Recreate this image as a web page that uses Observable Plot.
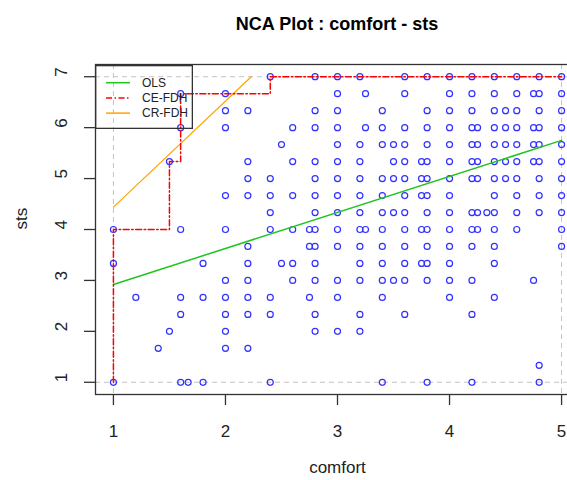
<!DOCTYPE html>
<html><head><meta charset="utf-8">
<script src="https://cdn.jsdelivr.net/npm/d3@7"></script>
<script src="https://cdn.jsdelivr.net/npm/@observablehq/plot@0.6"></script>
<style>
html,body{margin:0;padding:0;background:#fff;width:567px;height:480px;overflow:hidden;position:relative;font-family:"Liberation Sans",Arial,sans-serif;}
#title{position:absolute;left:0;top:12px;width:674px;text-align:center;font-weight:bold;font-size:18px;line-height:24px;color:#000;}
#chart{position:absolute;left:0;top:40px;width:600px;height:440px;}
#chart svg{max-width:none !important;}
#legend{position:absolute;left:95px;top:65px;}
</style></head><body>
<div id="title">NCA Plot : comfort - sts</div>
<div id="chart"></div>
<div id="legend"></div>
<script>
// Observed comfort levels and the sts values seen at each level
const comfortLevels = [1, 1.2, 1.4, 1.5, 1.6, 1.667, 1.8, 2, 2.2, 2.4, 2.5, 2.6, 2.75, 2.8, 3, 3.2, 3.25, 3.4, 3.5, 3.6, 3.75, 3.8, 4, 4.2, 4.25, 4.333, 4.4, 4.5, 4.6, 4.75, 4.8, 5];
const stsAtLevel = [
  [1, 3.333, 4],
  [2.667],
  [1.667],
  [5.333, 2],
  [6.667, 6, 4, 2.667, 2.333, 1],
  [1],
  [3.333, 2.667, 1],
  [6.667, 6.333, 6, 4.667, 4, 3, 2.667, 2.333, 2, 1.667],
  [6.333, 5.333, 5, 4.667, 3.667, 3.333, 3, 2.667, 2.333, 1.667],
  [7, 5, 4.667, 4.333, 4, 2.667, 2.333, 1],
  [5.667, 3.333],
  [6, 5.333, 4.667, 4, 3.333, 3],
  [4, 3.667, 2.667],
  [7, 6.333, 6, 5.333, 5, 4.667, 4.333, 4, 3.667, 3.333, 3, 2.333, 2],
  [7, 6.667, 6.333, 6, 5.667, 5.333, 5, 4.667, 4.333, 4, 3.667, 3, 2.667, 2],
  [7, 5.667, 5.333, 5, 4.667, 4.333, 4, 3.667, 3.333, 3, 2.333, 2],
  [6.667, 6, 4],
  [6.333, 6, 5.667, 5, 4.667, 4.333, 4, 3.667, 3.333, 3, 2.667, 1],
  [5.667, 5.333, 5, 4.333, 3],
  [7, 6.667, 6, 5.667, 5.333, 5, 4.667, 4.333, 4, 3.667, 3.333, 3, 2.333],
  [5.333, 5, 4.667, 4, 3.333],
  [7, 6.333, 6, 5.667, 5.333, 5, 4.667, 4.333, 4, 3.667, 3.333, 3, 1],
  [7, 6.667, 6.333, 6, 5.667, 5.333, 5, 4.667, 4.333, 4, 3.667, 3.333, 3, 2.667],
  [7, 6.667, 6.333, 6, 5.667, 5.333, 5, 4.333, 4, 3.667, 3, 2.333, 1],
  [6, 5.667, 5.333, 5, 4.333, 4],
  [4.333],
  [7, 6.667, 6.333, 6, 5.667, 5.333, 5, 4.667, 4.333, 4, 3.667, 3.333, 2.667],
  [6.333, 6, 5.667, 5.333, 5],
  [7, 6.667, 6.333, 6, 5.667, 5.333, 5, 4.667, 4.333, 4],
  [6.667, 6, 5.667, 5.333, 3],
  [7, 6.667, 6.333, 6, 5.667, 5.333, 5, 4.667, 4.333, 1.333, 1],
  [7, 6.667, 6.333, 6, 5.667, 5.333, 5, 4.667, 4.333, 4, 3.667]
];

// Ceiling / regression lines
const olsComfort = [1, 5];
const olsSts = [2.92, 5.75];
const ceComfort = [1, 1, 1.5, 1.5, 1.6, 1.6, 2.4, 2.4, 5];
const ceSts = [1, 4, 4, 5.333, 5.333, 6.667, 6.667, 7, 7];
const crComfort = [1, 2.23];
const crSts = [4.44, 7];

// Scope limits and ticks
const scopeComfort = [1, 5];
const scopeSts = [1, 7];
const xTicks = [1, 2, 3, 4, 5];
const yTicks = [1, 2, 3, 4, 5, 6, 7];

// Legend entries
const legendNames = ["OLS", "CE-FDH", "CR-FDH"];
const legendColors = ["#1fc41f", "#ff0000", "#ffa500"];
const legendDash = ["none", "6,2.5,1.5,2.5", "none"];

const points = comfortLevels.flatMap((c, i) => stsAtLevel[i].map(s => ({comfort: c, sts: s})));
const toRows = (xs, ys) => xs.map((x, i) => ({comfort: x, sts: ys[i]}));

const font = "'Liberation Sans', Arial, sans-serif";
const chart = Plot.plot({
  width: 600,
  height: 440,
  marginLeft: 95,
  marginRight: 21,
  marginTop: 24,
  marginBottom: 86,
  style: {fontFamily: font, fontSize: "17px", color: "#222", background: "transparent", overflow: "visible", maxWidth: "none"},
  x: {domain: [0.84, 5.16]},
  y: {domain: [0.76, 7.24]},
  marks: [
    Plot.ruleX(scopeComfort, {stroke: "#c4c4c4", strokeDasharray: "5,4", strokeWidth: 1}),
    Plot.ruleY(scopeSts, {stroke: "#c4c4c4", strokeDasharray: "5,4", strokeWidth: 1}),
    Plot.dot(points, {x: "comfort", y: "sts", r: 3.0, stroke: "#3030ff", strokeWidth: 1.2}),
    Plot.line(toRows(olsComfort, olsSts), {x: "comfort", y: "sts", stroke: legendColors[0], strokeWidth: 1.5}),
    Plot.line(toRows(crComfort, crSts), {x: "comfort", y: "sts", stroke: legendColors[2], strokeWidth: 1.2}),
    Plot.line(toRows(ceComfort, ceSts), {x: "comfort", y: "sts", stroke: legendColors[1], strokeWidth: 1.5, strokeDasharray: legendDash[1]}),
    Plot.frame({stroke: "#333", strokeWidth: 1.3}),
    Plot.axisX({ticks: xTicks, tickSize: 11, tickPadding: 19, fontSize: 17, label: null, tickFormat: d => String(d), stroke: "#333", strokeWidth: 1.3}),
    Plot.axisY({ticks: yTicks, tickSize: 11, tickFormat: () => "", label: null, stroke: "#333", strokeWidth: 1.3}),
    Plot.text(yTicks, {y: d => d, text: d => String(d), frameAnchor: "left", dx: -33.5, rotate: -90, fontSize: 17, fill: "#222"}),
    Plot.text(["comfort"], {frameAnchor: "bottom", dy: 78, fontSize: 17, fill: "#222"}),
    Plot.text(["sts"], {frameAnchor: "left", dx: -74, rotate: -90, fontSize: 17, fill: "#222"})
  ]
});
document.getElementById("chart").appendChild(chart);

// Legend box
const lg = d3.select("#legend").append("svg").attr("width", 98).attr("height", 64);
lg.append("rect").attr("x", 0.65).attr("y", 0.65).attr("width", 96.7).attr("height", 62.7)
  .attr("fill", "none").attr("stroke", "#333").attr("stroke-width", 1.3);
legendNames.forEach((name, i) => {
  const yy = 17.7 + i * 15.2;
  lg.append("line").attr("x1", 11).attr("x2", 35).attr("y1", yy).attr("y2", yy)
    .attr("stroke", legendColors[i]).attr("stroke-width", 1.5)
    .attr("stroke-dasharray", legendDash[i]);
  lg.append("text").attr("x", 47).attr("y", yy).attr("dy", "0.35em")
    .attr("font-family", font).attr("font-size", 12).attr("fill", "#222").text(name);
});
</script>
</body></html>
